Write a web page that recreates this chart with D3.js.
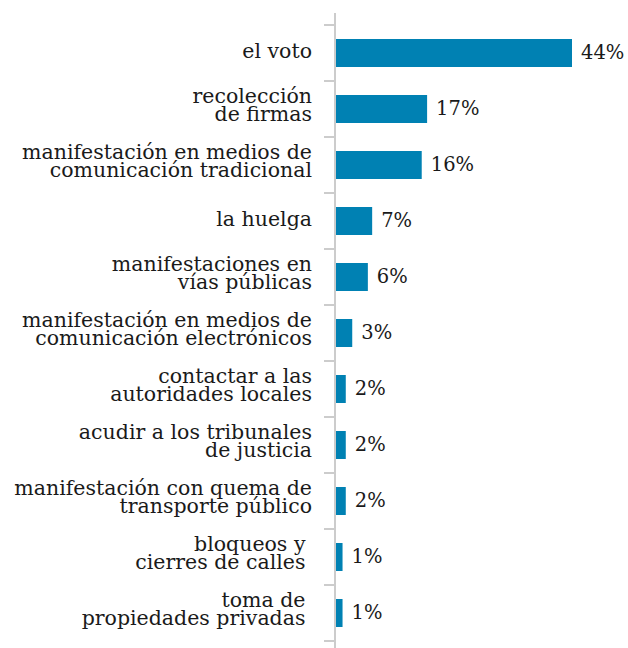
<!DOCTYPE html>
<html>
<head>
<meta charset="utf-8">
<script src="https://cdn.jsdelivr.net/npm/d3@7"></script>
<style>
  html, body { margin: 0; padding: 0; background: #fff; }
  svg { display: block; }
  text { font-family: "DejaVu Serif", serif; fill: #1a1a1a; }
</style>
</head>
<body>
<svg id="chart" width="628" height="648"></svg>
<script>
const categories = [
  "el voto",
  "recolección\nde firmas",
  "manifestación en medios de\ncomunicación tradicional",
  "la huelga",
  "manifestaciones en\nvías públicas",
  "manifestación en medios de\ncomunicación electrónicos",
  "contactar a las\nautoridades locales",
  "acudir a los tribunales\nde justicia",
  "manifestación con quema de\ntransporte público",
  "bloqueos y\u00a0\ncierres de calles\u00a0",
  "toma de\u00a0\npropiedades privadas\u00a0"
];
const values = [44, 17.1, 16.1, 6.9, 6.1, 3.2, 2.0, 2.0, 2.0, 1.4, 1.4];
const valueLabels = ["44%", "17%", "16%", "7%", "6%", "3%", "2%", "2%", "2%", "1%", "1%"];

const svg = d3.select("#chart");
const axisX = 335;
const catFont = 20.5;
const valFont = 19.5;

const y = d3.scaleBand()
  .domain(categories)
  .range([25, 641])
  .paddingInner(0.5)
  .paddingOuter(0.25);

const x = d3.scaleLinear()
  .domain([0, 44])
  .range([axisX, 572]);

// axis line
svg.append("line")
  .attr("x1", axisX).attr("x2", axisX)
  .attr("y1", 13).attr("y2", 648)
  .attr("stroke", "#cccccc").attr("stroke-width", 2);

// ticks at band boundaries
const gap = y.step() * y.paddingInner() / 2;
const tickYs = categories.map(c => y(c) - gap).concat([y(categories[categories.length - 1]) + y.bandwidth() + gap]);
svg.selectAll("line.tick").data(tickYs).enter().append("line")
  .attr("class", "tick")
  .attr("x1", axisX - 11).attr("x2", axisX)
  .attr("y1", d => d).attr("y2", d => d)
  .attr("stroke", "#cccccc").attr("stroke-width", 2);

// bars
svg.selectAll("rect.bar").data(categories).enter().append("rect")
  .attr("class", "bar")
  .attr("x", x(0) + 1)
  .attr("y", d => y(d))
  .attr("width", (d, i) => x(values[i]) - x(0) - 1)
  .attr("height", y.bandwidth())
  .attr("fill", "#0081b3");

// value labels
svg.selectAll("text.val").data(categories).enter().append("text")
  .attr("class", "val")
  .attr("x", (d, i) => x(values[i]) + 9)
  .attr("y", d => y(d) + y.bandwidth() / 2 + 6)
  .attr("font-size", valFont)
  .text((d, i) => valueLabels[i]);

// category labels
const labels = svg.selectAll("text.cat").data(categories).enter().append("text")
  .attr("class", "cat")
  .attr("text-anchor", "end")
  .attr("font-size", catFont)
  .attr("xml:space", "preserve")
  .style("white-space", "pre");

labels.each(function(d) {
  const lines = d.split("\n");
  const cy = y(d) + y.bandwidth() / 2;
  const t = d3.select(this);
  if (lines.length === 1) {
    t.append("tspan").attr("x", 312).attr("y", cy + 5).text(lines[0]);
  } else {
    t.append("tspan").attr("x", 312).attr("y", cy - 6).text(lines[0]);
    t.append("tspan").attr("x", 312).attr("y", cy + 12).text(lines[1]);
  }
});
</script>
</body>
</html>
